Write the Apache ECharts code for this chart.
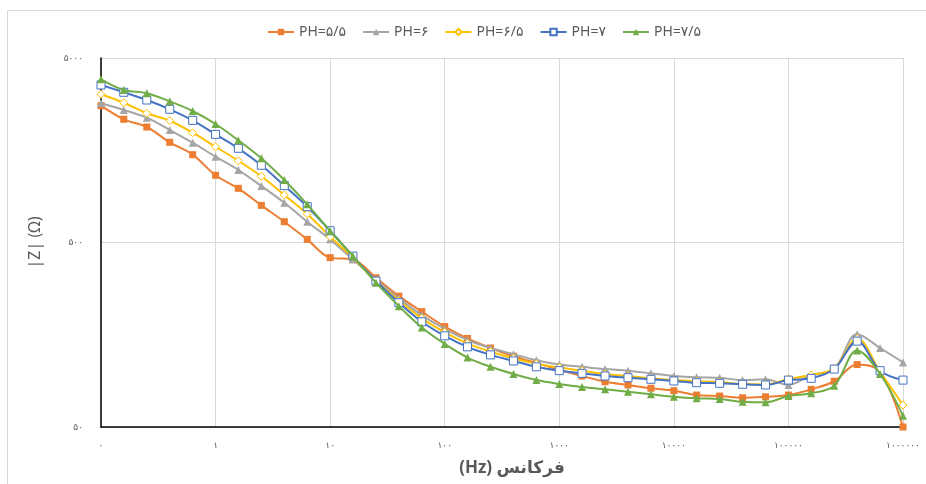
<!DOCTYPE html>
<html>
<head>
<meta charset="utf-8">
<script src="https://cdn.jsdelivr.net/npm/echarts@6/dist/echarts.min.js"></script>
<style>
  html, body { margin: 0; padding: 0; background: #ffffff; }
  #chart { width: 926px; height: 484px; }
</style>
</head>
<body>
<div id="chart"></div>
<script>
// Impedance magnitude |Z| versus frequency for five pH levels (log–log)
const frequencies = [0.1, 0.158, 0.251, 0.398, 0.631, 1, 1.58, 2.51, 3.98, 6.31,
  10, 15.8, 25.1, 39.8, 63.1, 100, 158, 251, 398, 631,
  1000, 1580, 2510, 3980, 6310, 10000, 15800, 25100, 39800, 63100,
  100000, 158000, 251000, 398000, 631000, 1000000];

const seriesNames = ['PH=۵/۵', 'PH=۶', 'PH=۶/۵', 'PH=۷', 'PH=۷/۵'];

const ph55 = [2757, 2327, 2113, 1746, 1496, 1157, 983, 795, 648, 520,
  414, 405, 322, 256, 211, 175, 151, 134, 121, 111,
  102, 94.5, 88.0, 84.5, 81.1, 78.6, 74.5, 73.6, 72.0, 72.9,
  74.5, 80.0, 88.5, 109, 99.6, 50];
const ph6 = [2840, 2614, 2374, 2036, 1737, 1459, 1236, 1012, 821, 648,
  520, 405, 316, 249, 202, 170, 148, 134, 124, 115,
  109, 106, 103, 101, 97.7, 94.5, 93.0, 92.5, 89.8, 90.7,
  84.5, 95.7, 103, 159, 134, 112];
const ph65 = [3179, 2862, 2508, 2286, 1968, 1652, 1387, 1142, 905, 714,
  538, 415, 309, 242, 194, 163, 142, 128, 118, 110,
  105, 101, 96.9, 94.5, 91.8, 89.8, 88.5, 87.7, 85.5, 85.2,
  91.1, 95.7, 104, 151, 99.6, 65.8];
const ph7 = [3570, 3259, 2960, 2636, 2297, 1929, 1620, 1311, 1016, 782,
  579, 422, 309, 236, 186, 156, 136, 123, 114, 106,
  101, 97.7, 94.5, 92.5, 90.7, 88.8, 86.9, 86.3, 85.2, 84.5,
  89.8, 91.8, 103, 146, 101, 89.8];
const ph75 = [3833, 3354, 3219, 2912, 2581, 2194, 1790, 1430, 1091, 805,
  577, 422, 303, 226, 173, 141, 119, 106, 96.9, 89.8,
  85.5, 82.4, 80.0, 77.6, 75.2, 72.9, 71.5, 70.9, 68.5, 68.0,
  73.6, 76.2, 83.7, 130, 96.9, 57.5];

const xTickValues = [0.1, 1, 10, 100, 1000, 10000, 100000, 1000000];
const xTickLabels = ['۰', '۱', '۱۰', '۱۰۰', '۱۰۰۰', '۱۰۰۰۰', '۱۰۰۰۰۰', '۱۰۰۰۰۰۰'];
const yTickValues = [50, 500, 5000];
const yTickLabels = ['۵۰', '۵۰۰', '۵۰۰۰'];

const allValues = [ph55, ph6, ph65, ph7, ph75];
// marker look per series: filled markers use the line colour, hollow ones a white fill
const seriesStyles = [
  { color: '#ED7D31', symbol: 'rect', size: 7, hollow: false },
  { color: '#A5A5A5', symbol: 'triangle', size: 8, hollow: false },
  { color: '#FFC000', symbol: 'diamond', size: 8, hollow: true },
  { color: '#4472C4', symbol: 'rect', size: 8, hollow: true },
  { color: '#70AD47', symbol: 'triangle', size: 8, hollow: false }
];

function tickLabel(values, labels) {
  return function (v) {
    for (let i = 0; i < values.length; i++) {
      if (Math.abs(Math.log10(v) - Math.log10(values[i])) < 1e-6) return labels[i];
    }
    return '';
  };
}

const FONT = '"Noto Sans", "DejaVu Sans", sans-serif';

const chart = echarts.init(document.getElementById('chart'), null, { renderer: 'canvas' });

chart.setOption({
  animation: false,
  backgroundColor: '#ffffff',
  textStyle: { fontFamily: FONT },
  graphic: [{
    type: 'rect',
    shape: { x: 7.5, y: 10.5, width: 940, height: 500 },
    style: { fill: 'none', stroke: '#d9d9d9', lineWidth: 1 },
    silent: true,
    z: -1
  }],
  legend: {
    top: 20,
    left: 262,
    itemGap: 16,
    itemWidth: 26,
    itemHeight: 8,
    textStyle: { fontSize: 14, color: '#595959', fontFamily: FONT },
    data: seriesNames
  },
  grid: { left: 101, right: 23, top: 58, bottom: 57, containLabel: false },
  xAxis: {
    type: 'log',
    logBase: 10,
    min: 0.1,
    max: 1000000,
    name: '(Hz) فرکانس',
    nameLocation: 'middle',
    nameGap: 33,
    nameTextStyle: { fontSize: 17, fontWeight: 'bold', color: '#595959', fontFamily: FONT, padding: [0, 0, 0, 20] },
    axisLine: { show: true, lineStyle: { color: '#000000', width: 1.5 } },
    axisTick: { show: false, customValues: xTickValues },
    axisLabel: {
      customValues: xTickValues,
      formatter: tickLabel(xTickValues, xTickLabels),
      fontSize: 9, color: '#595959', margin: 14, fontFamily: FONT
    },
    splitLine: { show: true, lineStyle: { color: '#d9d9d9', width: 1 } }
  },
  yAxis: {
    type: 'log',
    logBase: 10,
    min: 50,
    max: 5000,
    name: '|Z| (Ω)',
    nameLocation: 'middle',
    nameGap: 58,
    nameRotate: 90,
    nameTextStyle: { fontSize: 16, color: '#595959', fontFamily: FONT },
    axisLine: { show: true, lineStyle: { color: '#000000', width: 1.5 } },
    axisTick: { show: false, customValues: yTickValues },
    axisLabel: {
      customValues: yTickValues,
      formatter: tickLabel(yTickValues, yTickLabels),
      fontSize: 9, color: '#595959', margin: 18, fontFamily: FONT
    },
    splitLine: { show: true, lineStyle: { color: '#d9d9d9', width: 1 } }
  },
  series: seriesNames.map((name, k) => {
    const st = seriesStyles[k];
    return {
      name: name,
      type: 'line',
      smooth: 0.35,
      data: frequencies.map((f, i) => [f, allValues[k][i]]),
      symbol: st.symbol,
      symbolSize: st.size,
      showAllSymbol: true,
      lineStyle: { color: st.color, width: 2 },
      itemStyle: st.hollow
        ? { color: '#ffffff', borderColor: st.color, borderWidth: 1 }
        : { color: st.color, borderWidth: 0 },
      z: 2 + k
    };
  })
});
</script>
</body>
</html>
